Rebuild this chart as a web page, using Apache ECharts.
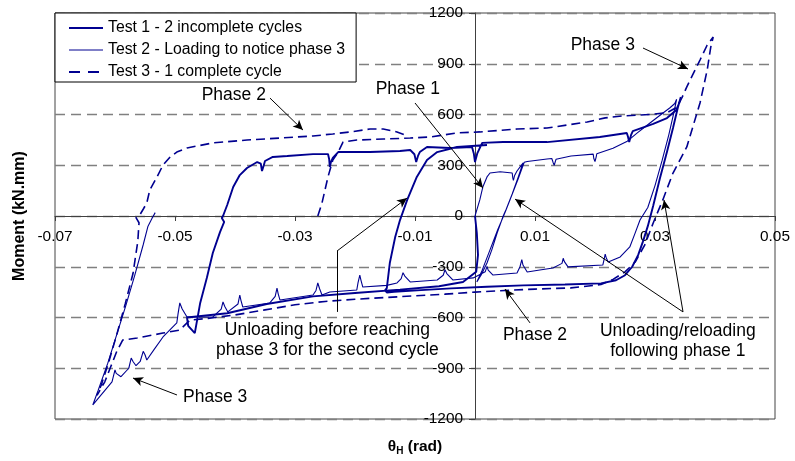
<!DOCTYPE html>
<html><head><meta charset="utf-8">
<script src="https://cdn.jsdelivr.net/npm/echarts@6/dist/echarts.min.js"></script>
<style>html,body{margin:0;padding:0;background:#fff}#c{width:795px;height:461px}</style>
</head><body><div id="c"></div>
<script>
const FONT = '"Liberation Sans", Arial, sans-serif';
const NAVY = '#000090';

// x tick labels (rad)
const xTicks = [-0.07, -0.05, -0.03, -0.01, 0.01, 0.03, 0.05];

// Test 1 - 2 incomplete cycles  [theta_H (rad), Moment (kN.mm)]
const test1 = [
 [0,0],[0.0003,-100],[0.0005,-230],[0.0002,-330],[-0.002,-390],[-0.006,-415],[-0.0125,-435],[-0.02,-455],
 [-0.027,-475],[-0.0347,-520],[-0.0413,-575],[-0.048,-600],[-0.0478,-650],[-0.0467,-692],
 [-0.0458,-514],[-0.0447,-366],[-0.0437,-219],[-0.0425,-95],[-0.0418,-35],[-0.0422,-12],[-0.042,0],
 [-0.0413,65],[-0.0403,171],[-0.0392,242],[-0.038,284],[-0.0363,319],[-0.0357,310],[-0.0355,266],
 [-0.0352,300],[-0.035,325],[-0.0337,349],[-0.0313,355],[-0.027,366],[-0.0245,366],[-0.0243,335],
 [-0.0242,290],[-0.024,320],[-0.0237,343],[-0.0228,378],[-0.0225,384],[-0.0175,378],[-0.0125,384],
 [-0.0108,390],[-0.0101,365],[-0.0098,319],[-0.0095,355],[-0.0092,378],[-0.008,408],[-0.0042,402],
 [-0.0005,408],[-0.0002,370],[0,319],[0.0004,372],[0.0012,432],[0.0047,437],[0.012,437],[0.0208,467],
 [0.0253,491],[0.0255,468],[0.0257,437],[0.026,478],[0.0263,502],[0.0297,544],[0.032,579],[0.0335,625],
 [0.0342,680],[0.0343,703],
 [0.0338,640],[0.033,520],[0.032,380],[0.0308,220],[0.0297,60],[0.0288,-60],[0.028,-150],[0.0272,-230],
 [0.0262,-300],[0.025,-350],[0.0235,-380],[0.021,-398],[0.015,-405],[0.008,-410],[0.002,-418],
 [-0.004,-428],[-0.009,-438],[-0.0135,-448],[-0.0147,-452],[-0.015,-440],[-0.0147,-426],[-0.0142,-278],
 [-0.0133,-124],[-0.0125,-24],[-0.0113,95],[-0.0097,231],[-0.008,331],[-0.0063,378],[-0.003,408],[0.002,420]
];

// Test 2 - Loading to notice phase 3
const test2 = [
 [0,0],[0.0008,95],[0.0013,171],[0.002,231],[0.0025,254],[0.0042,262],[0.0062,254],[0.0063,225],
 [0.0064,210],[0.0066,240],[0.007,266],[0.008,313],
 [0.0072,230],[0.0062,130],[0.0052,40],[0.0047,0],[0.0037,-100],[0.0028,-200],[0.002,-278],[0.001,-350],[0.0003,-390],
 [0.0012,-320],[0.0025,-200],[0.0038,-80],[0.005,20],[0.006,110],[0.0072,220],[0.0082,318],
 [0.0087,322],[0.012,337],[0.0128,340],[0.013,318],[0.0132,300],[0.0135,335],[0.0137,343],[0.016,355],
 [0.0197,366],[0.0198,340],[0.02,322],[0.0202,350],[0.0203,368],[0.023,400],[0.0253,440],[0.027,490],
 [0.029,545],[0.031,600],[0.0325,640],[0.0333,665],[0.0336,690],
 [0.0332,620],[0.0323,480],[0.0312,330],[0.03,180],[0.0288,50],[0.0275,-24],[0.0267,-100],[0.0258,-183],
 [0.0242,-242],[0.0222,-272],[0.0219,-250],[0.0217,-225],[0.0215,-260],[0.0213,-290],[0.0155,-301],
 [0.0149,-270],[0.0147,-250],[0.0145,-280],[0.013,-307],[0.0108,-319],[0.0087,-331],[0.008,-290],
 [0.0078,-258],[0.0075,-300],[0.007,-337],[0.003,-349],[0.0022,-320],[0.002,-298],[0.0017,-330],
 [-0.0003,-366],[-0.0037,-378],[-0.0047,-340],[-0.005,-318],[-0.0053,-350],[-0.0063,-378],[-0.0108,-390],
 [-0.0117,-355],[-0.012,-335],[-0.0123,-370],[-0.013,-396],[-0.0147,-410],[-0.0187,-420],[-0.019,-380],
 [-0.0192,-349],[-0.0195,-395],[-0.0197,-437],[-0.0242,-449],[-0.0255,-467],[-0.0259,-430],[-0.0262,-396],
 [-0.0265,-440],[-0.027,-467],[-0.0325,-497],[-0.0328,-460],[-0.033,-426],[-0.0333,-475],[-0.0342,-514],
 [-0.0387,-538],[-0.039,-500],[-0.0392,-467],[-0.0395,-520],[-0.0412,-567],[-0.0417,-535],[-0.042,-508],
 [-0.0423,-550],[-0.0437,-597],[-0.048,-597],[-0.0488,-550],[-0.0492,-514],[-0.0495,-580],[-0.0497,-632],
 [-0.052,-715],[-0.0535,-790],[-0.0547,-851],[-0.055,-820],[-0.0553,-800],[-0.0558,-860],[-0.0565,-885],
 [-0.057,-860],[-0.0573,-840],[-0.0577,-900],[-0.059,-950],[-0.0598,-930],[-0.06,-910],[-0.0605,-980],
 [-0.0637,-1117],
 [-0.0628,-1030],[-0.0612,-870],[-0.0597,-700],[-0.0582,-530],[-0.0567,-350],[-0.0553,-170],[-0.0545,-60],
 [-0.0538,-12],[-0.0533,20]
];

// Test 3 - 1 complete cycle
const test3 = [
 [-0.0262,0],[-0.0255,77],[-0.025,154],[-0.0245,231],
 [-0.0237,331],[-0.0228,378],[-0.022,437],[-0.0197,449],[-0.0153,455],[-0.0108,461],[-0.0075,467],
 [-0.003,491],[0.0008,497],[0.007,514],[0.012,520],[0.0187,556],[0.0217,580],[0.0245,591],[0.0292,600],
 [0.032,610],[0.0335,640],[0.0345,700],[0.0353,763],[0.0365,850],[0.0375,922],[0.0387,1011],[0.0397,1058],
 [0.0393,1000],[0.0387,863],[0.0375,668],[0.0353,408],[0.033,254],[0.0313,95],[0.0297,-41],[0.0283,-171],
 [0.0267,-272],[0.025,-330],[0.023,-375],[0.021,-405],[0.016,-425],[0.01,-432],[0.005,-440],[0,-450],
 [-0.005,-462],[-0.01,-472],[-0.015,-482],[-0.02,-492],[-0.025,-505],[-0.03,-525],[-0.035,-555],
 [-0.04,-585],[-0.0445,-605],[-0.0475,-615],[-0.0492,-674],[-0.052,-692],[-0.0563,-721],[-0.0587,-733],
 [-0.0597,-800],[-0.0607,-890],[-0.0617,-980],[-0.063,-1060],
 [-0.0623,-1000],[-0.0611,-870],[-0.0597,-700],[-0.0583,-520],[-0.057,-340],[-0.0562,-150],[-0.056,-40],
 [-0.0565,-10],[-0.0558,10],[-0.0553,40],[-0.0547,77],[-0.0542,154],[-0.053,231],[-0.052,301],
 [-0.0508,349],[-0.0497,378],[-0.048,402],[-0.0437,432],[-0.038,449],[-0.0325,461],[-0.027,473],
 [-0.0237,485],[-0.0208,497],[-0.0175,514],[-0.0153,514],[-0.013,497],[-0.0113,475]
];

// annotation texts (anchor in data units)
const noteTexts = [
 {text:'Phase 2', at:[-0.0402, 715]},
 {text:'Phase 1', at:[-0.0112, 751]},
 {text:'Phase 3', at:[0.0213, 1011]},
 {text:'Unloading/reloading\nfollowing phase 1', at:[0.0338, -742]},
 {text:'Unloading before reaching\nphase 3 for the second cycle', at:[-0.0246, -733]},
 {text:'Phase 2', at:[0.0100, -703]},
 {text:'Phase 3', at:[-0.0433, -1070]}
];
// annotation leader lines [from, to, arrowhead]
const noteArrows = [
 [[-0.03417, 697], [-0.02867, 508], true],
 [[-0.0100, 668], [0.00133, 165], true],
 [[0.0280, 993], [0.0355, 869], true],
 [[0.03467, -567], [0.00667, 100], true],
 [[0.03467, -567], [0.0315, 95], true],
 [[-0.0230, -567], [-0.0230, -207], false],
 [[-0.0230, -207], [-0.01133, 106], true],
 [[0.00917, -632], [0.0050, -432], true],
 [[-0.04967, -1058], [-0.0570, -958], true]
];

const GRID = {left: 55, right: 20, top: 13, bottom: 42};
const X_MIN = -0.07, X_MAX = 0.05, Y_MIN = -1200, Y_MAX = 1200;
const plotW = 795 - GRID.left - GRID.right, plotH = 461 - GRID.top - GRID.bottom;
// axes drawn through the zero of the other axis
const yAxisOffset = -plotW * (0 - X_MIN) / (X_MAX - X_MIN);
const xAxisOffset = -plotH * (0 - Y_MIN) / (Y_MAX - Y_MIN);

const chart = echarts.init(document.getElementById('c'), null, {renderer: 'canvas'});

const markData = noteArrows.map(a => [
 {coord: a[0], symbol: 'none'},
 {coord: a[1], symbol: a[2] ? 'arrow' : 'none', symbolSize: [7, 10]}
]);

const N1 = 'Test 1 - 2 incomplete cycles', N2 = 'Test 2 - Loading to notice phase 3', N3 = 'Test 3 - 1 complete cycle';

chart.setOption({
 animation: false,
 backgroundColor: '#fff',
 grid: Object.assign({show: true, borderColor: '#444', borderWidth: 1, backgroundColor: '#fff'}, GRID),
 legend: {
  data: [
   {name: N1, lineStyle: {width: 2, color: NAVY}},
   {name: N2, lineStyle: {width: 1, color: NAVY}},
   {name: N3, lineStyle: {width: 2, color: NAVY, type: [11, 8]}}
  ],
  orient: 'vertical', left: 55, top: 13, padding: [7, 11, 2, 13], itemGap: 6,
  itemWidth: 34, itemHeight: 14, backgroundColor: '#fff', borderColor: '#000', borderWidth: 1,
  itemStyle: {opacity: 0},
  textStyle: {fontFamily: FONT, fontSize: 15.8, color: '#000', lineHeight: 16},
  selectedMode: false
 },
 xAxis: {
  type: 'value', min: X_MIN, max: X_MAX, offset: xAxisOffset,
  axisLine: {onZero: false, lineStyle: {color: '#404040', width: 1}},
  axisTick: {show: true, length: 5, customValues: xTicks, lineStyle: {color: '#404040'}},
  axisLabel: {customValues: xTicks, margin: 13, fontSize: 15.4, fontFamily: FONT, color: '#000',
   formatter: v => (Math.round(v * 100) / 100).toFixed(2)},
  splitLine: {show: false}
 },
 yAxis: {
  type: 'value', min: Y_MIN, max: Y_MAX, interval: 300, offset: yAxisOffset,
  axisLine: {onZero: false, lineStyle: {color: '#404040', width: 1}},
  axisTick: {show: true, length: 6, lineStyle: {color: '#404040'}},
  axisLabel: {margin: 12, fontSize: 15.4, fontFamily: FONT, color: '#000', formatter: v => String(v)},
  splitLine: {show: true, lineStyle: {color: '#808080', width: 1.3, type: [10, 6]}}
 },
 series: [
  {name: N3, type: 'line', data: test3, symbol: 'none', showSymbol: false,
   lineStyle: {color: NAVY, width: 1.6, type: [9, 5]}, itemStyle: {color: NAVY}, z: 2},
  {name: N2, type: 'line', data: test2, symbol: 'none', showSymbol: false,
   lineStyle: {color: NAVY, width: 1.1}, itemStyle: {color: NAVY}, z: 3},
  {name: N1, type: 'line', data: test1, symbol: 'none', showSymbol: false,
   lineStyle: {color: NAVY, width: 1.9}, itemStyle: {color: NAVY}, z: 4},
  {name: 'notes', type: 'line', data: [[0, 0]], symbol: 'none', lineStyle: {opacity: 0}, silent: true, z: 5,
   markLine: {silent: true, animation: false, symbol: ['none', 'arrow'], label: {show: false},
    lineStyle: {color: '#000', width: 1, type: 'solid'}, emphasis: {disabled: true}, data: markData}}
 ]
});

function place() {
 const g = noteTexts.map(n => {
  const p = chart.convertToPixel({xAxisIndex: 0, yAxisIndex: 0}, n.at);
  return {type: 'text', x: p[0], y: p[1], silent: true, z: 10,
   style: {text: n.text, font: '17.5px ' + FONT, fill: '#000', align: 'center', verticalAlign: 'middle', lineHeight: 20}};
 });
 const cx = GRID.left + plotW / 2, cy = GRID.top + plotH / 2;
 g.push({type: 'text', x: 20, y: cy, rotation: Math.PI / 2, silent: true,
  style: {text: 'Moment (kN.mm)', font: 'bold 16px ' + FONT, fill: '#000', align: 'center', verticalAlign: 'middle'}});
 g.push({type: 'text', x: cx, y: 447, silent: true,
  style: {text: '{a|θ}{s|H}{a| (rad)}', align: 'center', verticalAlign: 'middle',
   rich: {a: {font: 'bold 15.5px ' + FONT, fill: '#000'}, s: {font: 'bold 10px ' + FONT, fill: '#000', padding: [8, 0, 0, 0]}}}});
 chart.setOption({graphic: g});
}
place();
</script></body></html>
